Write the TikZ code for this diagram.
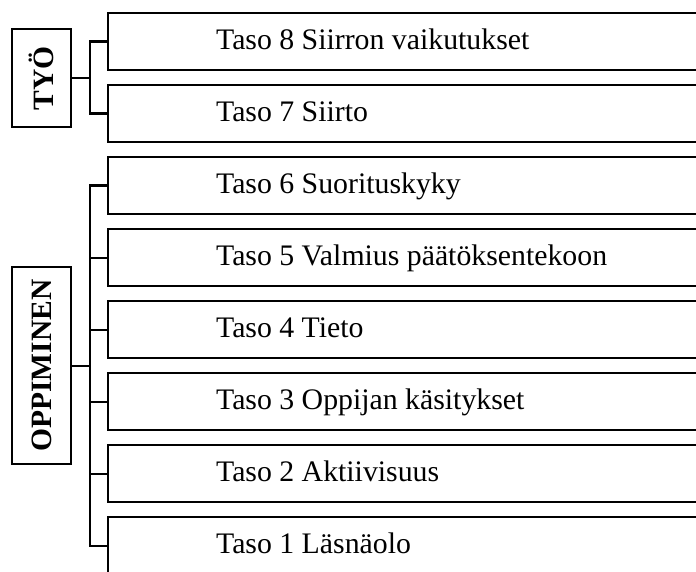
\documentclass[tikz,border=0pt]{standalone}
\usepackage{fontspec}
\setmainfont{Liberation Serif}
\begin{document}
\begin{tikzpicture}[x=1pt,y=-1pt,
  line width=2.2pt,
  levelbox/.style={draw, rectangle, anchor=north west, minimum width=620pt, minimum height=57pt, inner sep=0pt},
  leveltext/.style={anchor=base west, inner sep=0pt, font=\fontsize{29.8}{32}\selectfont},
  groupbox/.style={draw, rectangle, anchor=north west, minimum width=59pt, inner sep=0pt},
  grouptext/.style={rotate=90, font=\fontsize{29.5}{32}\selectfont\bfseries}
]
\useasboundingbox (0,0) rectangle (696,572);
\clip (0,0) rectangle (696,572);

% level boxes, open to the right
\foreach \n/\y/\t in {8/12/{Taso 8 Siirron vaikutukset},
                      7/84/{Taso 7 Siirto},
                      6/156/{Taso 6 Suorituskyky},
                      5/228/{Taso 5 Valmius päätöksentekoon},
                      4/300/{Taso 4 Tieto},
                      3/372/{Taso 3 Oppijan käsitykset},
                      2/444/{Taso 2 Aktiivisuus},
                      1/516/{Taso 1 Läsnäolo}}{
  \node[levelbox] (b\n) at (107,\y) {};
  \node[leveltext] (t\n) at ([xshift=108pt,yshift=-8pt]b\n.west) {\t};
}

% group boxes
\node[groupbox, minimum height=98pt] (tyo) at (11,28) {};
\node[grouptext] (tyol) at (tyo.center) {TYÖ};
\node[groupbox, minimum height=197pt] (opp) at (11,266) {};
\node[grouptext] (oppl) at (opp.center) {OPPIMINEN};

% brackets joining groups to their levels
\coordinate (tj) at ([xshift=18pt]tyo.east);
\draw (tyo.east) -- (tj);
\draw (b8.west) -- (b8.west -| tj) -- (b7.west -| tj) -- (b7.west);

\coordinate (oj) at ([xshift=18pt]opp.east);
\draw (opp.east) -- (oj);
\draw (b6.west) -- (b6.west -| oj) -- (b1.west -| oj) -- (b1.west);
\foreach \n in {5,4,3,2}{
  \draw (b\n.west -| oj) -- (b\n.west);
}
\end{tikzpicture}
\end{document}
